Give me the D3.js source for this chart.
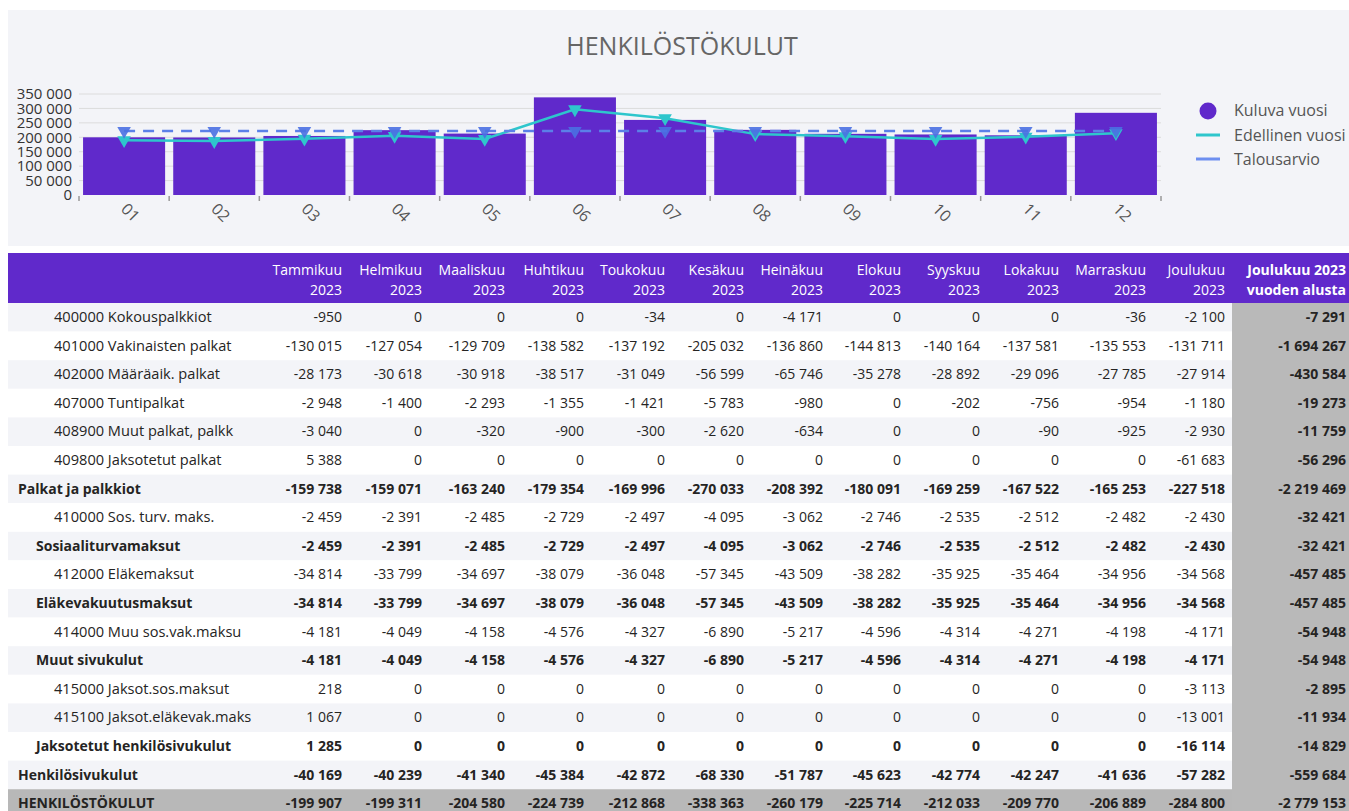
<!DOCTYPE html>
<html><head><meta charset="utf-8">
<script src="https://cdn.jsdelivr.net/npm/d3@7"></script>
<style>
body{margin:0;background:#fff;}
svg{display:block;font-family:"Open Sans","Noto Sans",sans-serif;}
</style></head>
<body><svg id="c" width="1349" height="811"></svg>
<script>
// ---------- DATA ----------
const monthCodes = ["01","02","03","04","05","06","07","08","09","10","11","12"];
const currentYear = [199907,199311,204580,224739,212868,338363,260179,225714,212033,209770,206889,284800];
const previousYear = [190000,187000,195000,205000,194000,297000,266000,211000,204000,194000,202000,214000];
const budget = [222000,222000,222000,222000,222000,222000,222000,222000,222000,222000,222000,222000];
const yTicks = [0,50000,100000,150000,200000,250000,300000,350000];
const seriesNames = ["Kuluva vuosi","Edellinen vuosi","Talousarvio"];

const monthNames = ["Tammikuu","Helmikuu","Maaliskuu","Huhtikuu","Toukokuu","Kesäkuu","Heinäkuu","Elokuu","Syyskuu","Lokakuu","Marraskuu","Joulukuu"];
const yearLabel = "2023";
const totalHeader = ["Joulukuu 2023","vuoden alusta"];

const rowLabels = ["400000 Kokouspalkkiot","401000 Vakinaisten palkat","402000 Määräaik. palkat","407000 Tuntipalkat","408900 Muut palkat, palkk","409800 Jaksotetut palkat","Palkat ja palkkiot","410000 Sos. turv. maks.","Sosiaaliturvamaksut","412000 Eläkemaksut","Eläkevakuutusmaksut","414000 Muu sos.vak.maksu","Muut sivukulut","415000 Jaksot.sos.maksut","415100 Jaksot.eläkevak.maks","Jaksotetut henkilösivukulut","Henkilösivukulut","HENKILÖSTÖKULUT"];
const rowLevels = [2,2,2,2,2,2,0,2,1,2,1,2,1,2,2,1,0,0];
const rowValues = [
 [-950,0,0,0,-34,0,-4171,0,0,0,-36,-2100],
 [-130015,-127054,-129709,-138582,-137192,-205032,-136860,-144813,-140164,-137581,-135553,-131711],
 [-28173,-30618,-30918,-38517,-31049,-56599,-65746,-35278,-28892,-29096,-27785,-27914],
 [-2948,-1400,-2293,-1355,-1421,-5783,-980,0,-202,-756,-954,-1180],
 [-3040,0,-320,-900,-300,-2620,-634,0,0,-90,-925,-2930],
 [5388,0,0,0,0,0,0,0,0,0,0,-61683],
 [-159738,-159071,-163240,-179354,-169996,-270033,-208392,-180091,-169259,-167522,-165253,-227518],
 [-2459,-2391,-2485,-2729,-2497,-4095,-3062,-2746,-2535,-2512,-2482,-2430],
 [-2459,-2391,-2485,-2729,-2497,-4095,-3062,-2746,-2535,-2512,-2482,-2430],
 [-34814,-33799,-34697,-38079,-36048,-57345,-43509,-38282,-35925,-35464,-34956,-34568],
 [-34814,-33799,-34697,-38079,-36048,-57345,-43509,-38282,-35925,-35464,-34956,-34568],
 [-4181,-4049,-4158,-4576,-4327,-6890,-5217,-4596,-4314,-4271,-4198,-4171],
 [-4181,-4049,-4158,-4576,-4327,-6890,-5217,-4596,-4314,-4271,-4198,-4171],
 [218,0,0,0,0,0,0,0,0,0,0,-3113],
 [1067,0,0,0,0,0,0,0,0,0,0,-13001],
 [1285,0,0,0,0,0,0,0,0,0,0,-16114],
 [-40169,-40239,-41340,-45384,-42872,-68330,-51787,-45623,-42774,-42247,-41636,-57282],
 [-199907,-199311,-204580,-224739,-212868,-338363,-260179,-225714,-212033,-209770,-206889,-284800]
];
const rowTotals = [-7291,-1694267,-430584,-19273,-11759,-56296,-2219469,-32421,-32421,-457485,-457485,-54948,-54948,-2895,-11934,-14829,-559684,-2779153];

// ---------- LAYOUT ----------
const C = {bar:"#6029cb", teal:"#2ec6cc", blue:"#4a70e2", blueLine:"#5b80e8", legBlue:"#6d8ff0", text:"#252423", grid:"#dcdcdc"};
const fmt = d3.formatLocale({decimal:",",thousands:"\u00a0",grouping:[3],currency:["",""],minus:"-"}).format(",d");
const svg = d3.select("#c");

// chart panel
svg.append("rect").attr("x",8).attr("y",10).attr("width",1341).attr("height",236).attr("fill","#f3f4f8");
svg.append("text").attr("x",682).attr("y",55).attr("text-anchor","middle").attr("font-size",25).attr("fill","#666").text("HENKILÖSTÖKULUT");

const x = d3.scaleBand().domain(monthCodes).range([79,1161]).paddingInner(0.09).paddingOuter(0.045);
const y = d3.scaleLinear().domain([0,350000]).range([195,94]);

// grid
svg.append("g").selectAll("line").data(yTicks.slice(1)).join("line")
 .attr("x1",79).attr("x2",1161).attr("y1",d=>y(d)).attr("y2",d=>y(d)).attr("stroke",C.grid).attr("stroke-width",1);

// y axis labels
const yAxis = svg.append("g").attr("transform","translate(79,0)")
 .call(d3.axisLeft(y).tickValues(yTicks).tickFormat(fmt).tickSize(0).tickPadding(7));
yAxis.select(".domain").remove();
yAxis.selectAll("text").attr("font-size",15).attr("fill","#333").attr("font-family","Open Sans");

// bars
svg.append("g").selectAll("rect").data(currentYear).join("rect")
 .attr("x",(d,i)=>x(monthCodes[i])).attr("width",x.bandwidth())
 .attr("y",d=>y(d)).attr("height",d=>y(0)-y(d)).attr("fill",C.bar);

// x axis
const step = x.step(), x0 = 79;
const xAxis = svg.append("g").attr("transform","translate(0,196)");
xAxis.selectAll("line").data(d3.range(13)).join("line")
 .attr("x1",i=>x0+i*step).attr("x2",i=>x0+i*step).attr("y1",0).attr("y2",5).attr("stroke","#999").attr("stroke-width",1.5);
xAxis.selectAll("text").data(monthCodes).join("text")
 .attr("transform",d=>`translate(${x(d)+x.bandwidth()/2},10) rotate(45)`)
 .attr("dy","0.35em").attr("font-size",16).attr("fill","#555").text(d=>d);

const cx = (d,i)=>x(monthCodes[i])+x.bandwidth()/2;
const tri = d3.symbol().type(d3.symbolTriangle).size(80);

// previous year line
svg.append("path").datum(previousYear).attr("fill","none").attr("stroke",C.teal).attr("stroke-width",2.5)
 .attr("d",d3.line().x(cx).y(d=>y(d)));
svg.append("g").selectAll("path").data(previousYear).join("path")
 .attr("d",tri).attr("fill",C.teal)
 .attr("transform",(d,i)=>`translate(${cx(d,i)},${y(d)}) rotate(180)`);

// budget line
svg.append("path").datum(budget).attr("fill","none").attr("stroke",C.blueLine).attr("stroke-width",2.5)
 .attr("stroke-dasharray","11,8").attr("d",d3.line().x(cx).y(d=>y(d)));
svg.append("g").selectAll("path").data(budget).join("path")
 .attr("d",tri).attr("fill",C.blue).attr("fill-opacity",0.9)
 .attr("transform",(d,i)=>`translate(${cx(d,i)},${y(d)}) rotate(180)`);

// legend
const leg = svg.append("g");
leg.append("circle").attr("cx",1208).attr("cy",111).attr("r",8.5).attr("fill",C.bar);
leg.append("line").attr("x1",1196).attr("x2",1220).attr("y1",135).attr("y2",135).attr("stroke",C.teal).attr("stroke-width",3);
leg.append("line").attr("x1",1196).attr("x2",1220).attr("y1",159).attr("y2",159).attr("stroke",C.legBlue).attr("stroke-width",3);
leg.selectAll("text").data(seriesNames).join("text")
 .attr("x",1234).attr("y",(d,i)=>116+i*24.5).attr("font-size",16).attr("fill","#555").text(d=>d);

// ---------- TABLE ----------
const colRight = [342,422,505,584,665,744,823,901,980,1059,1146,1225];
const totRight = 1346;
const rowTop = 303, rowH = 28.6;
const T = svg.append("g").attr("font-size",14);

T.append("rect").attr("x",8).attr("y",253).attr("width",1341).attr("height",50).attr("fill",C.bar);
monthNames.forEach((m,i)=>{
  T.append("text").attr("x",colRight[i]).attr("y",275).attr("text-anchor","end").attr("fill","#fff").text(m);
  T.append("text").attr("x",colRight[i]).attr("y",295).attr("text-anchor","end").attr("fill","#fff").text(yearLabel);
});
totalHeader.forEach((t,k)=>{
  T.append("text").attr("x",totRight).attr("y",275+k*20).attr("text-anchor","end").attr("fill","#fff").attr("font-weight","bold").text(t);
});

rowLabels.forEach((lab,r)=>{
  const top = rowTop + r*rowH;
  const last = r===rowLabels.length-1;
  T.append("rect").attr("x",8).attr("y",top).attr("width",1224).attr("height",rowH)
   .attr("fill", last ? "#b8b8b8" : (r%2===0 ? "#f3f4f8" : "#ffffff"));
});
T.append("rect").attr("x",1232).attr("y",rowTop).attr("width",117).attr("height",811-rowTop).attr("fill","#b9b9b9");

rowLabels.forEach((lab,r)=>{
  const base = rowTop + r*rowH + 19;
  const lv = rowLevels[r];
  const bold = lv<2 ? "bold" : "normal";
  T.append("text").attr("x",[18,36,54][lv]).attr("y",base).attr("fill",C.text).attr("font-weight",bold)
   .attr("font-size", lv<2 ? 14 : 14.6).text(lab);
  rowValues[r].forEach((v,c)=>{
    T.append("text").attr("x",colRight[c]).attr("y",base).attr("text-anchor","end").attr("fill",C.text).attr("font-weight",bold).text(fmt(v));
  });
  T.append("text").attr("x",totRight).attr("y",base).attr("text-anchor","end").attr("fill",C.text).attr("font-weight","bold").text(fmt(rowTotals[r]));
});
</script></body></html>
